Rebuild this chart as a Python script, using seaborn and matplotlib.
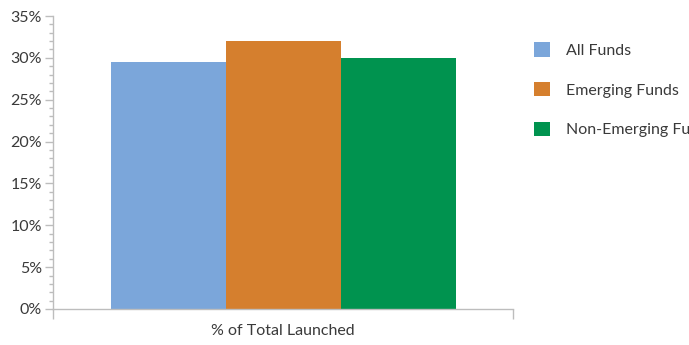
import matplotlib
matplotlib.use("Agg")
import matplotlib.pyplot as plt
import seaborn as sns
import pandas as pd
from matplotlib.patches import Patch
from matplotlib.ticker import MultipleLocator, FuncFormatter

categories = ["% of Total Launched"]
series = ["All Funds", "Emerging Funds", "Non-Emerging Funds"]
values = [29.5, 32.0, 30.0]
colors = ["#7BA6DA", "#D57F2E", "#00934F"]

df = pd.DataFrame({"cat": categories * len(series), "series": series, "value": values})

sns.set_theme(style="white")
plt.rcParams["font.family"] = ["Lato", "DejaVu Sans"]

fig = plt.figure(figsize=(6.89, 3.45), dpi=100)
ax = fig.add_axes([53/689, 1-309/345, (513-53)/689, (309-16)/345])

sns.barplot(data=df, x="cat", y="value", hue="series", palette=colors,
            width=0.75, saturation=1, ax=ax, legend=False, linewidth=0)

ax.set_xlim(-0.5, 0.5)
ax.set_ylim(0, 35)
ax.yaxis.set_major_locator(MultipleLocator(5))
ax.yaxis.set_minor_locator(MultipleLocator(1))
ax.yaxis.set_major_formatter(FuncFormatter(lambda v, p: f"{int(v)}%"))
ax.set_xlabel("")
ax.set_ylabel("")

gray = "#BDBDBD"
txt = "#3A3A3A"
for s in ["top", "right"]:
    ax.spines[s].set_visible(False)
for s in ["left", "bottom"]:
    ax.spines[s].set_color(gray)
    ax.spines[s].set_linewidth(1)

fs = 11.5
ax.tick_params(axis="y", which="major", length=6, width=1, color=gray, left=True,
               labelsize=fs, labelcolor=txt, pad=2)
ax.tick_params(axis="y", which="minor", length=3, width=1, color=gray, left=True)
ax.set_xticks([0])
ax.set_xticklabels(categories)
ax.set_xticks([-0.5, 0.5], minor=True)
ax.tick_params(axis="x", which="major", length=0, labelsize=fs, labelcolor=txt, pad=11)
ax.tick_params(axis="x", which="minor", length=7, width=1, color=gray, bottom=True)

handles = [Patch(facecolor=c, edgecolor="none") for c in colors]
fig.legend(handles, series, loc="upper left", bbox_to_anchor=(528/689, 1-36/345),
           frameon=False, fontsize=fs, labelcolor=txt, handlelength=1.0,
           handleheight=1.0, labelspacing=1.5, handletextpad=1.0, borderaxespad=0)

fig.savefig("out.png", dpi=100)
